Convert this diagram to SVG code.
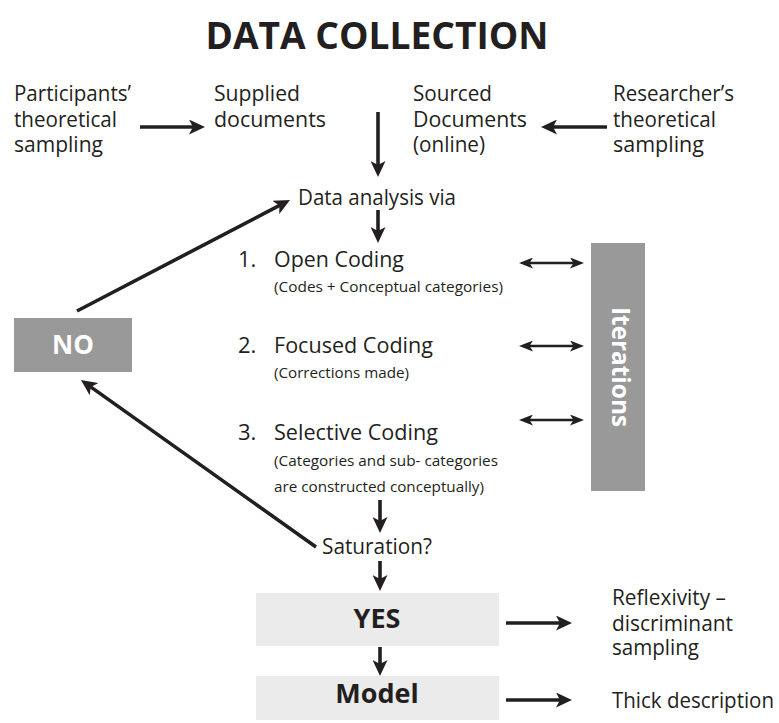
<svg xmlns="http://www.w3.org/2000/svg" width="779" height="723" viewBox="0 0 779 723">
  <style>
    .t { font-family: "Open Sans", "Noto Sans", "DejaVu Sans", sans-serif; font-size: 22px; fill: #231f20; }
    .s { font-family: "Open Sans", "Noto Sans", "DejaVu Sans", sans-serif; font-size: 15px; fill: #231f20; }
    .b { font-family: "Open Sans", "Noto Sans", "DejaVu Sans", sans-serif; font-weight: 700; }
    .dark { fill: #999999; }
    .light { fill: #ebebeb; }
    .conn line { stroke: #231f20; stroke-width: 3.6; fill: none; }
    .conn line.thin { stroke-width: 2.6; }
  </style>
  <defs>
    <marker id="ah" viewBox="0 0 16 15" refX="8" refY="7.5" markerWidth="16" markerHeight="15" markerUnits="userSpaceOnUse" orient="auto-start-reverse">
      <path d="M0,0 L16,7.5 L0,15 L4,7.5 Z" fill="#231f20"/>
    </marker>
    <marker id="ah2" viewBox="0 0 14 11" refX="7" refY="5.5" markerWidth="14" markerHeight="11" markerUnits="userSpaceOnUse" orient="auto-start-reverse">
      <path d="M0,0 L14,5.5 L0,11 L3.5,5.5 Z" fill="#231f20"/>
    </marker>
  </defs>

  <rect width="779" height="723" fill="#ffffff"/>

  <!-- heading -->
  <g id="title">
    <text class="b" x="377" y="49" font-size="37" fill="#231f20" text-anchor="middle" textLength="343" lengthAdjust="spacingAndGlyphs">DATA COLLECTION</text>
  </g>

  <!-- sources -->
  <g id="participants">
    <text class="t" x="14" y="101" textLength="117" lengthAdjust="spacingAndGlyphs">Participants’</text>
    <text class="t" x="14" y="127" textLength="103" lengthAdjust="spacingAndGlyphs">theoretical</text>
    <text class="t" x="14" y="152" textLength="89" lengthAdjust="spacingAndGlyphs">sampling</text>
  </g>
  <g id="supplied">
    <text class="t" x="214" y="101" textLength="86" lengthAdjust="spacingAndGlyphs">Supplied</text>
    <text class="t" x="214" y="127" textLength="112" lengthAdjust="spacingAndGlyphs">documents</text>
  </g>
  <g id="sourced">
    <text class="t" x="413" y="101" textLength="79" lengthAdjust="spacingAndGlyphs">Sourced</text>
    <text class="t" x="413" y="127" textLength="114" lengthAdjust="spacingAndGlyphs">Documents</text>
    <text class="t" x="413" y="152" textLength="72" lengthAdjust="spacingAndGlyphs">(online)</text>
  </g>
  <g id="researcher">
    <text class="t" x="613" y="101" textLength="121" lengthAdjust="spacingAndGlyphs">Researcher’s</text>
    <text class="t" x="613" y="127" textLength="103" lengthAdjust="spacingAndGlyphs">theoretical</text>
    <text class="t" x="613" y="152" textLength="91" lengthAdjust="spacingAndGlyphs">sampling</text>
  </g>

  <!-- analysis steps -->
  <g id="analysis">
    <text class="t" x="298" y="205" textLength="158" lengthAdjust="spacingAndGlyphs">Data analysis via</text>
  </g>
  <g id="open-coding">
    <text class="t" x="238" y="267">1.</text>
    <text class="t" x="274" y="267" textLength="130" lengthAdjust="spacingAndGlyphs">Open Coding</text>
    <text class="s" x="274" y="292" textLength="229" lengthAdjust="spacingAndGlyphs">(Codes + Conceptual categories)</text>
  </g>
  <g id="focused-coding">
    <text class="t" x="238" y="353">2.</text>
    <text class="t" x="274" y="353" textLength="159" lengthAdjust="spacingAndGlyphs">Focused Coding</text>
    <text class="s" x="274" y="378" textLength="135" lengthAdjust="spacingAndGlyphs">(Corrections made)</text>
  </g>
  <g id="selective-coding">
    <text class="t" x="238" y="440">3.</text>
    <text class="t" x="274" y="440" textLength="164" lengthAdjust="spacingAndGlyphs">Selective Coding</text>
    <text class="s" x="274" y="466" textLength="224" lengthAdjust="spacingAndGlyphs">(Categories and sub- categories</text>
    <text class="s" x="274" y="492" textLength="210" lengthAdjust="spacingAndGlyphs">are constructed conceptually)</text>
  </g>
  <g id="saturation">
    <text class="t" x="322" y="554" textLength="110" lengthAdjust="spacingAndGlyphs">Saturation?</text>
  </g>

  <!-- decision boxes -->
  <g id="no">
    <rect class="dark" x="14" y="318" width="118" height="54"/>
    <text class="b" x="73" y="354" font-size="26" fill="#ffffff" text-anchor="middle">NO</text>
  </g>
  <g id="iterations">
    <rect class="dark" x="591" y="243" width="54" height="248"/>
    <text class="b" transform="translate(612,367) rotate(90)" font-size="25" fill="#ffffff" text-anchor="middle" textLength="120" lengthAdjust="spacingAndGlyphs">Iterations</text>
  </g>
  <g id="yes">
    <rect class="light" x="256" y="593" width="243" height="53"/>
    <text class="b" x="377" y="628" font-size="27" fill="#231f20" text-anchor="middle">YES</text>
  </g>
  <g id="model">
    <rect class="light" x="256" y="676" width="243" height="44"/>
    <text class="b" x="377" y="703" font-size="27" fill="#231f20" text-anchor="middle">Model</text>
  </g>

  <!-- outcomes -->
  <g id="reflexivity">
    <text class="t" x="612" y="605" textLength="114" lengthAdjust="spacingAndGlyphs">Reflexivity –</text>
    <text class="t" x="612" y="631" textLength="121" lengthAdjust="spacingAndGlyphs">discriminant</text>
    <text class="t" x="612" y="655" textLength="87" lengthAdjust="spacingAndGlyphs">sampling</text>
  </g>
  <g id="thick-description">
    <text class="t" x="612" y="708" textLength="162" lengthAdjust="spacingAndGlyphs">Thick description</text>
  </g>

  <!-- connectors -->
  <g id="connectors" class="conn">
    <line x1="140" y1="127" x2="197" y2="127" marker-end="url(#ah)"/>
    <line x1="607" y1="127" x2="549" y2="127" marker-end="url(#ah)"/>
    <line x1="378" y1="112" x2="378" y2="169" marker-end="url(#ah)"/>
    <line x1="378" y1="210" x2="378" y2="235" marker-end="url(#ah)"/>
    <line x1="77" y1="311" x2="282.9" y2="203.7" marker-end="url(#ah)"/>
    <line x1="316" y1="547" x2="87.5" y2="384.6" marker-end="url(#ah)"/>
    <line x1="380" y1="500" x2="380" y2="525" marker-end="url(#ah)"/>
    <line x1="380" y1="561" x2="380" y2="583" marker-end="url(#ah)"/>
    <line x1="380" y1="647" x2="380" y2="668" marker-end="url(#ah)"/>
    <line x1="506" y1="623" x2="564" y2="623" marker-end="url(#ah)"/>
    <line x1="506" y1="700" x2="564" y2="700" marker-end="url(#ah)"/>
    <line class="thin" x1="526" y1="263" x2="577" y2="263" marker-start="url(#ah2)" marker-end="url(#ah2)"/>
    <line class="thin" x1="526" y1="346" x2="577" y2="346" marker-start="url(#ah2)" marker-end="url(#ah2)"/>
    <line class="thin" x1="526" y1="420" x2="577" y2="420" marker-start="url(#ah2)" marker-end="url(#ah2)"/>
  </g>
</svg>
